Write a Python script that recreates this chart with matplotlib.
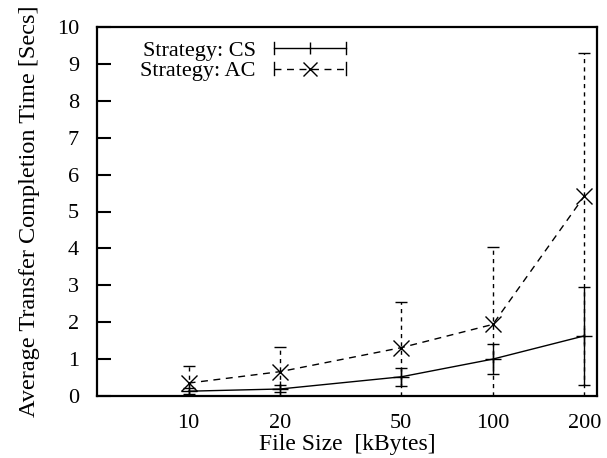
import numpy as np
import matplotlib
matplotlib.use('Agg')
import matplotlib.pyplot as plt
from matplotlib.lines import Line2D
from matplotlib.legend_handler import HandlerBase
from matplotlib.ticker import FixedLocator, NullLocator

# file sizes (kBytes)
sizes = [10, 20, 50, 100, 200]

# Strategy CS: mean, lower and upper error bar ends
cs_mean = [0.13, 0.19, 0.52, 1.00, 1.63]
cs_low = [0.05, 0.10, 0.27, 0.59, 0.30]
cs_high = [0.21, 0.30, 0.77, 1.40, 2.96]

# Strategy AC: mean, lower and upper error bar ends
ac_mean = [0.35, 0.66, 1.31, 1.94, 5.42]
ac_low = [0.0, 0.0, 0.0, 0.0, 0.0]
ac_high = [0.82, 1.34, 2.54, 4.03, 9.29]

yticks = list(range(0, 11))

plt.rcParams['font.family'] = ['Liberation Serif', 'DejaVu Serif']
plt.rcParams['font.size'] = 16

CS_DASH = '-'
AC_DASH = (0, (5, 4))


class HorizErrHandler(HandlerBase):
    # legend sample drawn as a horizontal error bar with a marker in the middle
    def __init__(self, ls, marker, ms):
        super().__init__()
        self.ls = ls
        self.marker = marker
        self.ms = ms

    def create_artists(self, legend, orig_handle, xdescent, ydescent,
                       width, height, fontsize, trans):
        y = height / 2 - ydescent
        x0 = -xdescent
        x1 = width - xdescent
        h = 4.5
        arts = [
            Line2D([x0, x1], [y, y], color='black', lw=1.0, ls=self.ls),
            Line2D([x0, x0], [y - h, y + h], color='black', lw=1.0),
            Line2D([x1, x1], [y - h, y + h], color='black', lw=1.0),
            Line2D([(x0 + x1) / 2], [y], color='black', marker=self.marker,
                   ms=self.ms, mew=1.0, ls='none'),
        ]
        for a in arts:
            a.set_transform(trans)
        return arts


fig = plt.figure(figsize=(6.07, 4.58), dpi=100)
ax = fig.add_axes([97 / 607, 1 - 396 / 458, 500 / 607, 369 / 458])


def asym(mean, low, high):
    m = np.array(mean)
    return [m - np.array(low), np.array(high) - m]


cs = ax.errorbar(sizes, cs_mean, yerr=asym(cs_mean, cs_low, cs_high),
                 color='black', lw=1.0, elinewidth=1.0, capsize=4.5,
                 capthick=1.0, marker='+', ms=11, mew=1.0,
                 label='Strategy: CS')
ac = ax.errorbar(sizes, ac_mean, yerr=asym(ac_mean, ac_low, ac_high),
                 color='black', lw=1.0, ls=AC_DASH, elinewidth=1.0,
                 capsize=4.5, capthick=1.0, marker='x', ms=11, mew=1.0,
                 label='Strategy: AC')
for bar in ac[2]:
    bar.set_linestyle((0, (3, 3)))

ax.set_xscale('log')
ax.set_xlim(5, 220)
ax.set_ylim(0, 10)
ax.xaxis.set_major_locator(FixedLocator(sizes))
ax.xaxis.set_minor_locator(NullLocator())
ax.set_xticklabels([str(s) for s in sizes])
ax.set_yticks(yticks)
ax.tick_params(axis='x', length=0, pad=13)
ax.tick_params(axis='y', direction='in', length=10, width=1.5, pad=13)

for sp in ax.spines.values():
    sp.set_linewidth(1.6)

ax.set_xlabel('File Size  [kBytes]', fontsize=17, labelpad=1)
ax.set_ylabel('Average Transfer Completion Time [Secs]', fontsize=17.5,
              labelpad=12)

leg = ax.legend([cs, ac], ['Strategy: CS', 'Strategy: AC'],
                handler_map={cs: HorizErrHandler(CS_DASH, '|', 9),
                             ac: HorizErrHandler(AC_DASH, 'x', 10)},
                loc='upper left', bbox_to_anchor=(0.06, 1.0), frameon=False,
                markerfirst=False, handlelength=3.25, handletextpad=0.8,
                labelspacing=0.0, borderaxespad=0.2)

fig.savefig('out.png', dpi=100)
